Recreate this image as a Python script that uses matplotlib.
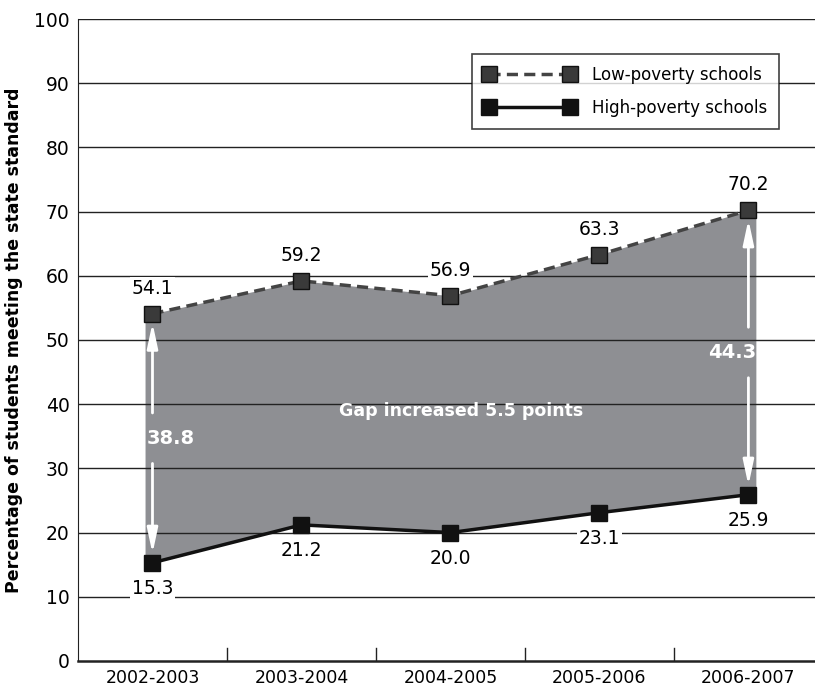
import matplotlib
matplotlib.use("Agg")
import matplotlib.pyplot as plt
import numpy as np

years = ["2002-2003", "2003-2004", "2004-2005", "2005-2006", "2006-2007"]
low_pov = [54.1, 59.2, 56.9, 63.3, 70.2]
high_pov = [15.3, 21.2, 20.0, 23.1, 25.9]
gaps = [38.8, 44.3]
gap_note = "Gap increased 5.5 points"

plt.rcParams['font.family'] = ['DejaVu Sans']

fig = plt.figure(figsize=(8.15, 6.94), dpi=100)
ax = fig.add_axes([0.0957, 0.0476, 0.914, 0.925])

x = np.arange(len(years))

# shaded gap, stretched a little past the end markers
ext = 0.05
fx = np.concatenate([[x[0] - ext], x, [x[-1] + ext]])
flo = np.concatenate([[high_pov[0]], high_pov, [high_pov[-1]]])
fhi = np.concatenate([[low_pov[0]], low_pov, [low_pov[-1]]])
ax.fill_between(fx, flo, fhi, color='#8e8f93', zorder=1, lw=0)

# grid lines on top of the fill
for yv in range(10, 101, 10):
    ax.axhline(yv, color='#222222', lw=1.0, zorder=2)

ax.plot(x, low_pov, ls=(0, (3.2, 1.8)), color='#444444', lw=2.5, marker='s', ms=11,
        mfc='#3a3a3a', mec='#111111', mew=1, zorder=5, label='Low-poverty schools')
ax.plot(x, high_pov, ls='-', color='#111111', lw=2.5, marker='s', ms=11,
        mfc='#111111', mec='#111111', mew=1, zorder=5, label='High-poverty schools')

# value labels
for i in range(len(x)):
    ax.text(x[i], low_pov[i] + 2.5, f"{low_pov[i]:.1f}", ha='center', va='bottom',
            fontsize=13.5, zorder=6,
            bbox=dict(facecolor='white', edgecolor='none', pad=1.5))
    ax.text(x[i], high_pov[i] - 2.5, f"{high_pov[i]:.1f}", ha='center', va='top',
            fontsize=13.5, zorder=6,
            bbox=dict(facecolor='white', edgecolor='none', pad=1.5))

# white double arrows with gap values
arrow = dict(arrowstyle='-|>,head_length=0.75,head_width=0.16',
             color='white', lw=2, mutation_scale=20)
for idx, g, ha, tx in zip([0, len(x) - 1], gaps, ['left', 'right'],
                          [x[0] - 0.04, x[-1] + 0.05]):
    xi = x[idx]
    mid = (low_pov[idx] + high_pov[idx]) / 2
    ax.annotate('', xy=(xi, low_pov[idx] - 1.0), xytext=(xi, mid + 3.5),
                arrowprops=arrow, zorder=4)
    ax.annotate('', xy=(xi, high_pov[idx] + 1.0), xytext=(xi, mid - 3.5),
                arrowprops=arrow, zorder=4)
    ax.text(tx, mid, f"{g:.1f}", color='white', fontweight='bold', fontsize=14,
            ha=ha, va='center', zorder=4)

ax.text(2.07, 39, gap_note, color='white', fontweight='bold', fontsize=12.5,
        ha='center', va='center', zorder=4)

ax.set_xlim(-0.5, len(x) - 0.5)
ax.set_ylim(0, 100)
ax.set_yticks(range(0, 101, 10))
ax.tick_params(axis='y', length=0, labelsize=13.5, pad=6)
ax.set_xticks(x)
ax.set_xticklabels(years)
ax.tick_params(axis='x', length=0, labelsize=12.5, pad=6)

# category separators on the x axis
for b in np.arange(0.5, len(x) - 0.5, 1):
    ax.plot([b, b], [0, 2], color='#222222', lw=1, zorder=3)

for s in ['top', 'right']:
    ax.spines[s].set_visible(False)
ax.spines['left'].set_color('#222222')
ax.spines['bottom'].set_color('#222222')
ax.spines['bottom'].set_linewidth(1.8)

ax.set_ylabel("Percentage of students meeting the state standard",
              fontweight='bold', fontsize=12.5, labelpad=8)

leg = ax.legend(loc='upper right', bbox_to_anchor=(0.952, 0.958), numpoints=2,
                fontsize=12, frameon=True, fancybox=False, handlelength=5.5,
                borderpad=0.7, labelspacing=0.9, handletextpad=1.0)
leg.get_frame().set_edgecolor('#111111')
leg.get_frame().set_linewidth(1.2)
leg.set_zorder(7)

fig.savefig("out.png", dpi=100)
